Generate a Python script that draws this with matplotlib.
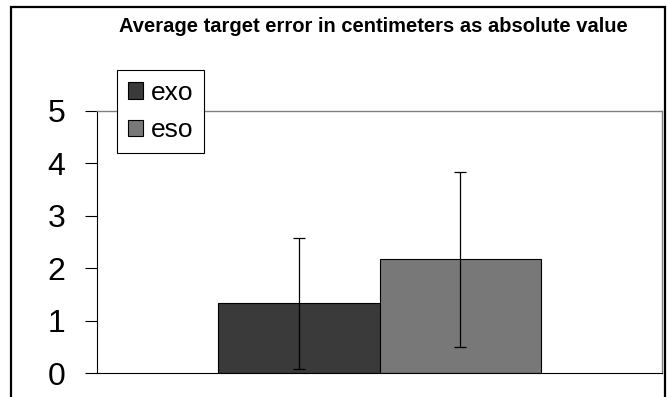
import matplotlib.pyplot as plt
from matplotlib.patches import Rectangle

plt.rcParams['font.family'] = ['Liberation Sans', 'DejaVu Sans']

# data
groups = ['exo', 'eso']
means = [1.33, 2.17]
errors = [1.25, 1.66]
colors = ['#3a3a3a', '#787878']
yticks = [0, 1, 2, 3, 4, 5]

fig = plt.figure(figsize=(6.67, 3.97), dpi=100)
ax = fig.add_axes([97 / 667, 23.7 / 397, 565 / 667, 262.6 / 397])

positions = [-0.5, 0.5]
for pos, m, e, c, g in zip(positions, means, errors, colors, groups):
    ax.bar(pos, m, width=1.0, color=c, edgecolor='black', linewidth=0.8, label=g, zorder=2)
    ax.errorbar(pos, m, yerr=e, fmt='none', ecolor='black', elinewidth=0.9,
                capsize=4, capthick=0.9, zorder=3)

ax.set_xlim(-1.75, 1.75)
ax.set_ylim(0, 5)
ax.set_xticks([])
ax.set_yticks(yticks)
ax.tick_params(axis='y', length=8.6, width=0.8, pad=14, labelsize=23)
for s in ['top', 'right']:
    ax.spines[s].set_color('#808080')
    ax.spines[s].set_linewidth(1.0)
for s in ['left', 'bottom']:
    ax.spines[s].set_color('black')
    ax.spines[s].set_linewidth(0.8)

fig.text(373 / 667, 1 - 27 / 397, 'Average target error in centimeters as absolute value',
         ha='center', va='center', fontsize=14.5, fontweight='bold')

leg = ax.legend(loc='upper left', bbox_to_anchor=(117 / 667, 1 - 70 / 397),
                bbox_transform=fig.transFigure, fontsize=19, frameon=True,
                fancybox=False, edgecolor='black', framealpha=1,
                handlelength=0.6, handleheight=0.6, handletextpad=0.3,
                labelspacing=0.52, borderpad=0.4, borderaxespad=0)
leg.get_frame().set_linewidth(0.8)
leg.set_zorder(5)

# outer chart border
fig.patches.append(Rectangle((11 / 667, -0.05), 654 / 667, 1.05 - 7 / 397,
                             transform=fig.transFigure, fill=False,
                             edgecolor='black', linewidth=1.6))

fig.savefig('out.png', dpi=100)
